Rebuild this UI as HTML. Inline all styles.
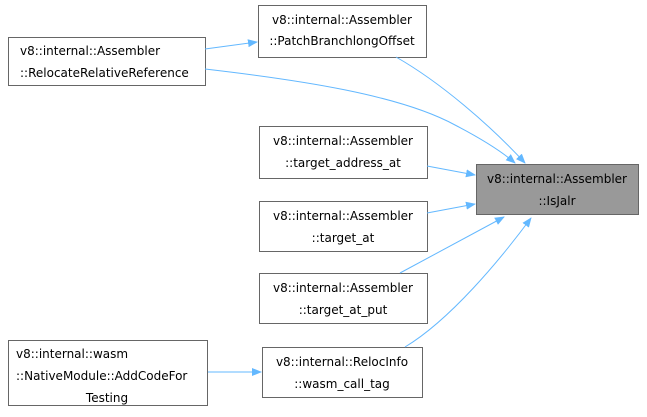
<!DOCTYPE html>
<html><head><meta charset="utf-8"><style>
html,body{margin:0;padding:0;background:#fff;}
text{font-family:"DejaVu Sans","Liberation Sans",sans-serif;font-size:12px;fill:#000;}
</style></head><body>
<svg width="647" height="412" viewBox="0 0 647 412" xmlns="http://www.w3.org/2000/svg">
<defs><marker id="ar" markerWidth="10" markerHeight="8" refX="9" refY="4" orient="auto" markerUnits="userSpaceOnUse"><path d="M0,0 L10,4 L0,8 z" fill="#63b8ff"/></marker></defs>
<g fill="#fff" stroke="#666" stroke-width="1">
<rect x="258.5" y="5.5" width="168" height="52"/>
<rect x="8.5" y="37.5" width="197" height="48"/>
<rect x="259.5" y="126.5" width="168" height="52"/>
<rect x="476.5" y="164.5" width="162" height="50" fill="#999"/>
<rect x="259.5" y="201.5" width="168" height="50"/>
<rect x="259.5" y="273.5" width="168" height="50"/>
<rect x="262.5" y="347.5" width="160" height="50"/>
<rect x="8.5" y="340.5" width="199" height="65"/>
</g>
<g fill="none" stroke="#63b8ff" stroke-width="1" marker-end="url(#ar)">
<path d="M205,49 L257,42"/>
<path d="M396,57 C440,82 490,125 525,163"/>
<path d="M205,69 C300,80 400,95 455,125 C480,138 500,150 515,163"/>
<path d="M427,166 L475,175"/>
<path d="M427,213 L475,204"/>
<path d="M400,273 L504,217"/>
<path d="M405,347 C450,320 500,260 531,218"/>
<path d="M208,372 L261,372"/>
</g>
<g text-anchor="middle">
<text x="342" y="24">v8::internal::Assembler</text><text x="342" y="45">::PatchBranchlongOffset</text>
<text x="107" y="55" text-anchor="start" transform="translate(-87,0)">v8::internal::Assembler</text>
<text x="107" y="77" text-anchor="start" transform="translate(-87,0)">::RelocateRelativeReference</text>
<text x="343" y="145">v8::internal::Assembler</text><text x="343" y="167">::target_address_at</text>
<text x="557" y="183">v8::internal::Assembler</text><text x="557" y="205">::IsJalr</text>
<text x="343" y="220">v8::internal::Assembler</text><text x="343" y="242">::target_at</text>
<text x="343" y="292">v8::internal::Assembler</text><text x="343" y="314">::target_at_put</text>
<text x="342" y="366">v8::internal::RelocInfo</text><text x="342" y="388">::wasm_call_tag</text>
<text x="16" y="358" text-anchor="start">v8::internal::wasm</text>
<text x="16" y="380" text-anchor="start">::NativeModule::AddCodeFor</text>
<text x="107" y="402">Testing</text>
</g>
</svg>
</body></html>
